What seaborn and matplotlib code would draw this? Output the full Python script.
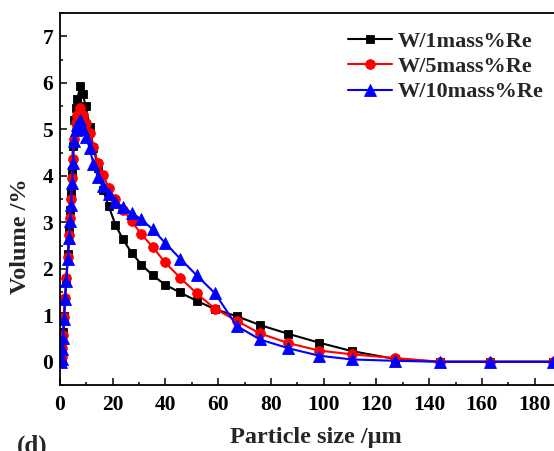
import numpy as np
import pandas as pd
import matplotlib
matplotlib.use("Agg")
import matplotlib.pyplot as plt
from matplotlib.ticker import MultipleLocator, FixedLocator
import seaborn as sns

# Particle size bins (µm)
particle_size = [0.3, 0.6, 0.87, 1.2, 1.55, 1.9, 2.4, 2.95, 3.5, 3.85, 4.2, 4.55,
                 4.9, 5.3, 5.9, 6.6, 7.6, 8.6, 9.8, 11.2, 12.7, 14.4, 16.3, 18.5,
                 21.0, 23.9, 27.2, 30.9, 35.1, 39.8, 45.5, 51.8, 58.8, 67.0, 75.8,
                 86.6, 98.3, 110.6, 127.0, 144.0, 163.0, 187.0]

# Volume fraction (%) for each alloy
vol_re1 = [0.0, 0.13, 0.34, 0.63, 0.99, 1.34, 1.77, 2.31, 2.86, 3.27, 3.66, 4.11,
           4.65, 5.2, 5.45, 5.65, 5.92, 5.75, 5.5, 5.05, 4.6, 4.17, 3.70, 3.34,
           2.95, 2.63, 2.34, 2.09, 1.86, 1.66, 1.49, 1.31, 1.13, 0.98, 0.79,
           0.60, 0.41, 0.23, 0.06, 0.0, 0.0, 0.0]
vol_re5 = [0.0, 0.1, 0.3, 0.58, 0.97, 1.38, 1.8, 2.25, 2.72, 3.1, 3.5, 3.95,
           4.35, 4.8, 5.13, 5.3, 5.45, 5.3, 5.13, 4.92, 4.62, 4.27, 4.02, 3.74,
           3.49, 3.27, 3.02, 2.74, 2.47, 2.14, 1.81, 1.47, 1.14, 0.88, 0.61,
           0.40, 0.24, 0.16, 0.08, 0.0, 0.0, 0.0]
vol_re10 = [0.0, 0.06, 0.27, 0.52, 0.91, 1.34, 1.74, 2.2, 2.67, 3.02, 3.38, 3.84,
            4.27, 4.74, 4.99, 5.1, 5.2, 5.0, 4.84, 4.6, 4.25, 3.97, 3.77, 3.6,
            3.43, 3.33, 3.2, 3.06, 2.85, 2.56, 2.22, 1.86, 1.47, 0.77, 0.48,
            0.29, 0.13, 0.05, 0.02, 0.0, 0.0, 0.0]

labels = ["W/1mass%Re", "W/5mass%Re", "W/10mass%Re"]
colors = ["#000000", "#FF0000", "#0000FF"]
marker_shapes = ["s", "o", "^"]
x_ticks = [0, 20, 40, 60, 80, 100, 120, 140, 160, 180]

frames = []
for lab, vals in zip(labels, [vol_re1, vol_re5, vol_re10]):
    frames.append(pd.DataFrame({"size": particle_size, "volume": vals, "sample": lab}))
df = pd.concat(frames, ignore_index=True)

sns.set_theme(style="ticks")
plt.rcParams["font.family"] = ["Liberation Serif", "DejaVu Serif"]
plt.rcParams["font.weight"] = "bold"

fig = plt.figure(figsize=(5.54, 4.51), dpi=100)
ax = fig.add_axes([60 / 554, 66 / 451, 527.4 / 554, 372 / 451])

sizes = {"W/1mass%Re": 6.0, "W/5mass%Re": 7.0, "W/10mass%Re": 8.0}
for lab, col, mk in zip(labels, colors, marker_shapes):
    sub = df[df["sample"] == lab]
    sns.lineplot(data=sub, x="size", y="volume", ax=ax, color=col, marker=mk,
                 markersize=sizes[lab], markeredgewidth=0.6, markeredgecolor=col,
                 linewidth=1.5, sort=False, estimator=None, label=lab)

ax.set_xlim(0, 200)
ax.set_ylim(-0.5, 7.5)
ax.xaxis.set_major_locator(FixedLocator(x_ticks))
ax.xaxis.set_minor_locator(MultipleLocator(10))
ax.yaxis.set_major_locator(MultipleLocator(1))
ax.yaxis.set_minor_locator(MultipleLocator(0.5))
ax.tick_params(which="both", direction="in", width=1.1, colors="black",
               labelsize=15.5)
ax.tick_params(which="major", length=5)
ax.tick_params(which="minor", length=2.5)
ax.tick_params(axis="x", pad=7)
ax.tick_params(axis="y", pad=5)
for t in ax.get_xticklabels() + ax.get_yticklabels():
    t.set_fontweight("bold")
for sp in ax.spines.values():
    sp.set_linewidth(1.3)
    sp.set_color("black")

ax.set_xlabel("Particle size /μm", fontsize=17.5, fontweight="bold")
ax.set_ylabel("Volume /%", fontsize=17.5, fontweight="bold")
ax.xaxis.set_label_coords((316 - 60) / 527.4, -(438 - 385) / 372, transform=ax.transAxes)
ax.yaxis.set_label_coords(-(60 - 21) / 527.4, (385 - 236) / 372, transform=ax.transAxes)
ax.xaxis.label.set_va("center")
ax.yaxis.label.set_va("center")

leg = ax.legend(loc="upper left", bbox_to_anchor=((348 - 60) / 527.4, (385 - 31) / 372),
                frameon=False, prop={"weight": "bold", "size": 16},
                handlelength=2.0, handletextpad=0.25, labelspacing=0.22,
                borderaxespad=0.0, borderpad=0.0)

fig.text(17 / 554, -2 / 451, "(d)", fontsize=18, fontweight="bold", va="baseline", ha="left")

fig.savefig("out.png", dpi=100)
